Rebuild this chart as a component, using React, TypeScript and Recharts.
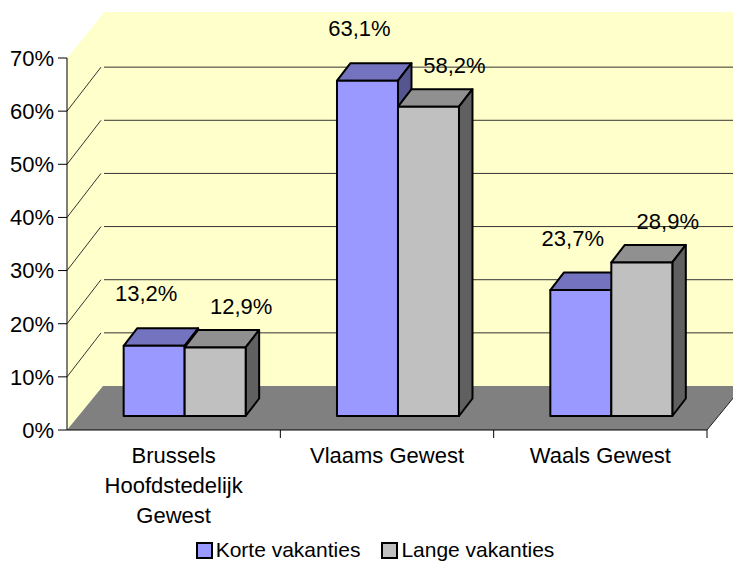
import React from "react";
import {
  BarChart,
  Bar,
  XAxis,
  YAxis,
  Legend,
  LabelList,
  useOffset,
  useChartWidth,
  useChartHeight,
} from "recharts";

const categories = ["Brussels Hoofdstedelijk Gewest", "Vlaams Gewest", "Waals Gewest"];
const korteVakanties = [13.2, 63.1, 23.7];
const langeVakanties = [12.9, 58.2, 28.9];
const seriesNames = ["Korte vakanties", "Lange vakanties"];
const yTicks = [0, 10, 20, 30, 40, 50, 60, 70];

const data = categories.map((name, i) => ({
  name,
  korte: korteVakanties[i],
  lange: langeVakanties[i],
}));

const FONT = "'Liberation Sans', Arial, sans-serif";
const Y_MAX = 70;
// back wall offset of the 3D box, bar plane offset, bar depth
const WALL_DX = 36;
const WALL_DY = 44;
const BAR_OX = 11;
const BAR_OY = -14;
const DEPTH_DX = 13.5;
const DEPTH_DY = 17.5;

const COLORS = {
  korte: { front: "#9999FF", top: "#7373BF", side: "#55558F" },
  lange: { front: "#C0C0C0", top: "#909090", side: "#606060" },
};

let measureCtx: CanvasRenderingContext2D | null = null;
function textWidth(s: string) {
  if (!measureCtx) measureCtx = document.createElement("canvas").getContext("2d");
  if (!measureCtx) return s.length * 11;
  measureCtx.font = `22px ${FONT}`;
  return measureCtx.measureText(s).width;
}

// greedy word wrap, like Excel does for long category names
function wrap(label: string, maxWidth: number) {
  const lines: string[] = [];
  let cur = "";
  for (const word of label.split(" ")) {
    const next = cur ? `${cur} ${word}` : word;
    if (cur && textWidth(next) > maxWidth) {
      lines.push(cur);
      cur = word;
    } else {
      cur = next;
    }
  }
  if (cur) lines.push(cur);
  return lines;
}

function Frame() {
  const offset = useOffset();
  const w = useChartWidth();
  const h = useChartHeight();
  if (!offset || !w || !h) return null;
  const L = offset.left;
  const T = offset.top;
  const R = w - offset.right;
  const B = h - offset.bottom;
  const yOf = (v: number) => B - ((B - T) * v) / Y_MAX;
  const band = (R - L) / categories.length;
  return (
    <g>
      {/* side wall + back wall */}
      <polygon
        points={`${L},${T} ${L + WALL_DX},${T - WALL_DY} ${L + WALL_DX},${B - WALL_DY} ${L},${B}`}
        fill="#FFFFCC"
      />
      <rect x={L + WALL_DX} y={T - WALL_DY - 2} width={R - L + 2} height={B - T + 2} fill="#FFFFCC" />
      {yTicks
        .filter((v) => v > 0 && v < Y_MAX)
        .map((v) => (
          <g key={v} stroke="#333" strokeWidth={1}>
            <line x1={L} y1={yOf(v)} x2={L + WALL_DX - 2} y2={yOf(v) - WALL_DY} />
            <line x1={L + WALL_DX + 1} y1={yOf(v) - WALL_DY} x2={R + WALL_DX} y2={yOf(v) - WALL_DY} />
          </g>
        ))}
      {/* floor */}
      <polygon
        points={`${L},${B} ${L + WALL_DX},${B - WALL_DY} ${R + WALL_DX},${B - WALL_DY} ${R},${B}`}
        fill="#808080"
      />
      <line x1={R} y1={B} x2={R + WALL_DX} y2={B - WALL_DY} stroke="#222" strokeWidth={1} />
      <line x1={L} y1={B} x2={R} y2={B} stroke="#000" strokeWidth={1} />
      {categories.map((_, i) => (
        <line
          key={i}
          x1={L + band * (i + 1)}
          y1={B}
          x2={L + band * (i + 1)}
          y2={B + 8}
          stroke="#000"
          strokeWidth={1}
        />
      ))}
    </g>
  );
}

function make3DBar(c: { front: string; top: string; side: string }) {
  return (props: any) => {
    const { x, y, width: bw, height: bh } = props;
    if (bw == null || bh == null) return null;
    const fx = x + BAR_OX;
    const fy = y + BAR_OY;
    const topPts = `${fx},${fy} ${fx + DEPTH_DX},${fy - DEPTH_DY} ${fx + bw + DEPTH_DX},${fy - DEPTH_DY} ${fx + bw},${fy}`;
    const sidePts = `${fx + bw},${fy} ${fx + bw + DEPTH_DX},${fy - DEPTH_DY} ${fx + bw + DEPTH_DX},${fy + bh - DEPTH_DY} ${fx + bw},${fy + bh}`;
    return (
      <g stroke="#000" strokeWidth={2} strokeLinejoin="round">
        <polygon points={topPts} fill={c.top} />
        <polygon points={sidePts} fill={c.side} />
        <rect x={fx} y={fy} width={bw} height={bh} fill={c.front} />
      </g>
    );
  };
}

const fmt = (v: number) => `${v.toFixed(1).replace(".", ",")}%`;

function makeLabel(shiftX: number, above: number) {
  return (props: any) => {
    const { x, y, width: bw, value } = props;
    return (
      <text
        x={x + bw / 2 + BAR_OX + shiftX}
        y={y + BAR_OY - above}
        textAnchor="middle"
        dominantBaseline="central"
        fontSize={22}
        fontFamily={FONT}
        fill="#000"
      >
        {fmt(Number(value))}
      </text>
    );
  };
}

function CategoryTick(props: any) {
  const { x, y, payload } = props;
  const lines = wrap(String(payload.value), 172);
  return (
    <text x={x} y={y} textAnchor="middle" fontSize={22} fontFamily={FONT} fill="#000">
      {lines.map((ln, i) => (
        <tspan key={i} x={x} dy={i === 0 ? "0.71em" : 30}>
          {ln}
        </tspan>
      ))}
    </text>
  );
}

function LegendContent() {
  const items = [
    { name: seriesNames[0], color: COLORS.korte.front },
    { name: seriesNames[1], color: COLORS.lange.front },
  ];
  return (
    <div
      style={{
        display: "flex",
        justifyContent: "center",
        alignItems: "center",
        gap: 21,
        paddingLeft: 17,
        paddingTop: 8,
        fontFamily: FONT,
        fontSize: 21,
        color: "#000",
        lineHeight: "24px",
      }}
    >
      {items.map((it) => (
        <div key={it.name} style={{ display: "flex", alignItems: "center" }}>
          <span
            style={{
              display: "inline-block",
              width: 13,
              height: 13,
              border: "2px solid #000",
              background: it.color,
              marginRight: 3,
            }}
          />
          <span>{it.name}</span>
        </div>
      ))}
    </div>
  );
}

export default function App() {
  return (
    <div style={{ position: "absolute", left: 0, top: 0, width: 733, height: 562, background: "#fff", overflow: "hidden" }}>
      <BarChart
        width={733}
        height={562}
        data={data}
        margin={{ top: 58, right: 26, bottom: 0, left: 0 }}
        barCategoryGap="21.4%"
        barGap={0}
      >
        <Frame />
        <XAxis
          dataKey="name"
          axisLine={false}
          tickLine={false}
          tickSize={0}
          tickMargin={17}
          height={100}
          interval={0}
          tick={<CategoryTick />}
        />
        <YAxis
          domain={[0, Y_MAX]}
          ticks={yTicks}
          width={67}
          tickSize={9}
          tickMargin={4}
          axisLine={{ stroke: "#000", strokeWidth: 1 }}
          tickLine={{ stroke: "#000", strokeWidth: 1 }}
          tickFormatter={(v: number) => `${v}%`}
          tick={{ fontSize: 22, fontFamily: FONT, fill: "#000" }}
        />
        <Bar dataKey="korte" name={seriesNames[0]} shape={make3DBar(COLORS.korte)} isAnimationActive={false}>
          <LabelList dataKey="korte" content={makeLabel(-8, 52)} />
        </Bar>
        <Bar dataKey="lange" name={seriesNames[1]} shape={make3DBar(COLORS.lange)} isAnimationActive={false}>
          <LabelList dataKey="lange" content={makeLabel(26, 41)} />
        </Bar>
        <Legend
          verticalAlign="bottom"
          content={<LegendContent />}
          wrapperStyle={{ left: 0, width: 733, bottom: 0, height: 32 }}
        />
      </BarChart>
    </div>
  );
}
